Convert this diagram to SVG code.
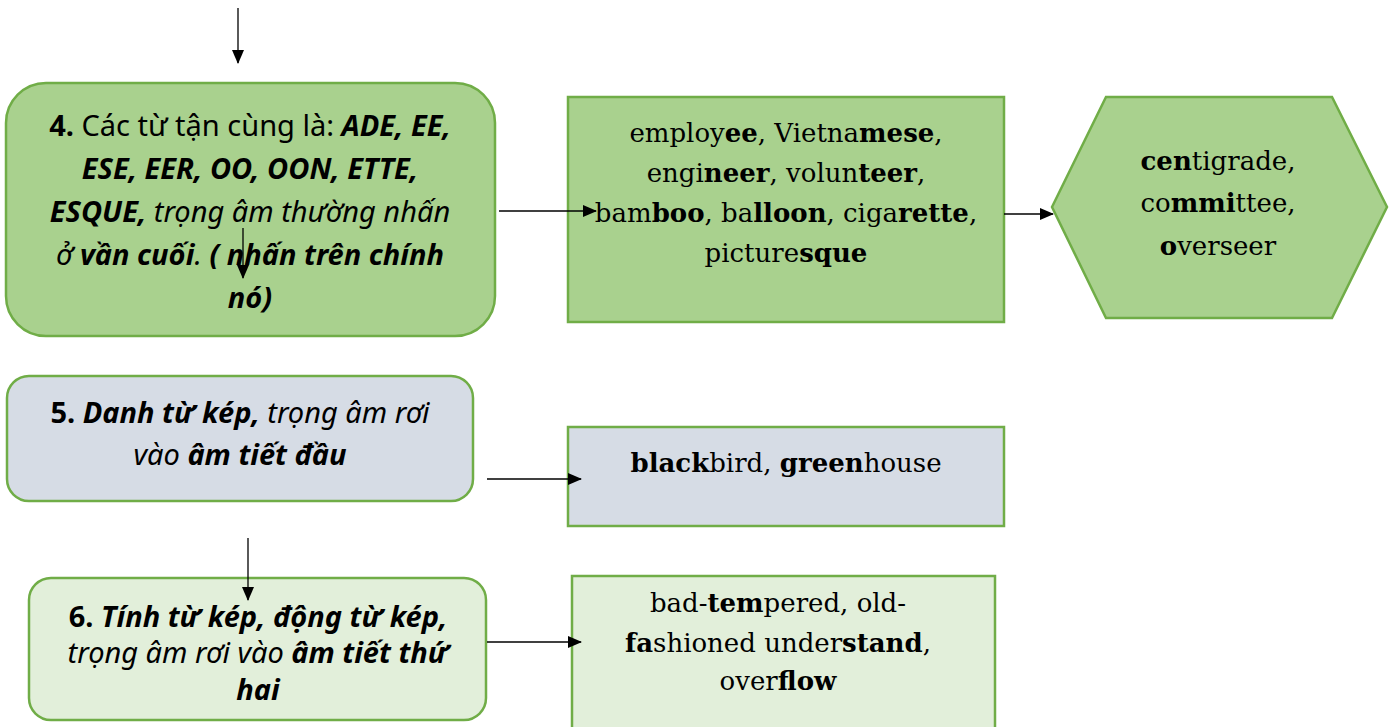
<svg xmlns="http://www.w3.org/2000/svg" width="1393" height="727" viewBox="0 0 1393 727">
<defs>
<marker id="arr" markerUnits="userSpaceOnUse" markerWidth="14" markerHeight="12" refX="13" refY="6" orient="auto">
<path d="M0,0 L14,6 L0,12 Z" fill="#000"/>
</marker>
<style>
.conn line{stroke:#000;stroke-width:1.3;marker-end:url(#arr)}
.box{stroke:#70ad47;stroke-width:2.5}
.g1{fill:#a9d18e}
.g2{fill:#d6dce5}
.g3{fill:#e2efda}
.ls{font-family:"Noto Sans","DejaVu Sans",sans-serif;font-size:29px;fill:#000;text-anchor:middle}
.rs{font-family:"DejaVu Serif","Liberation Serif",serif;font-size:26px;fill:#000;text-anchor:middle}
.b{font-weight:bold}
.i{font-style:italic}
</style>
</defs>
<rect width="1393" height="727" fill="#fff"/>
<g id="node4">
<rect class="box g1" x="6" y="83" width="489" height="253" rx="40"/>
<text class="ls" x="250" y="136"><tspan class="b">4.</tspan> Các từ tận cùng là: <tspan class="b i">ADE, EE,</tspan></text>
<text class="ls b i" x="250" y="179">ESE, EER, OO, OON, ETTE,</text>
<text class="ls" x="250" y="222"><tspan class="b i">ESQUE,</tspan><tspan class="i"> trọng âm thường nhấn</tspan></text>
<text class="ls i" x="250" y="265">ở <tspan class="b">vần cuối</tspan>. <tspan class="b">( nhấn trên chính</tspan></text>
<text class="ls b i" x="250" y="308">nó)</text>
</g>
<g id="nodeA">
<rect class="box g1" x="568" y="97" width="436" height="225"/>
<text class="rs" x="786" y="142">employ<tspan class="b">ee</tspan>, Vietna<tspan class="b">mese</tspan>,</text>
<text class="rs" x="786" y="182">engi<tspan class="b">neer</tspan>, volun<tspan class="b">teer</tspan>,</text>
<text class="rs" x="786" y="222">bam<tspan class="b">boo</tspan>, ba<tspan class="b">lloon</tspan>, ciga<tspan class="b">rette</tspan>,</text>
<text class="rs" x="786" y="262">picture<tspan class="b">sque</tspan></text>
</g>
<g id="nodeHex">
<polygon class="box g1" points="1052,207 1106,97 1332,97 1387,207 1332,318 1106,318"/>
<text class="rs" x="1218" y="170"><tspan class="b">cen</tspan>tigrade,</text>
<text class="rs" x="1218" y="212">co<tspan class="b">mmi</tspan>ttee,</text>
<text class="rs" x="1218" y="255"><tspan class="b">o</tspan>verseer</text>
</g>
<g id="node5">
<rect class="box g2" x="7" y="376" width="466" height="125" rx="22"/>
<text class="ls" x="240" y="423"><tspan class="b">5.</tspan> <tspan class="b i">Danh từ kép,</tspan><tspan class="i"> trọng âm rơi</tspan></text>
<text class="ls i" x="240" y="465">vào <tspan class="b">âm tiết đầu</tspan></text>
</g>
<g id="nodeB">
<rect class="box g2" x="568" y="427" width="436" height="99"/>
<text class="rs" x="786" y="472"><tspan class="b">black</tspan>bird, <tspan class="b">green</tspan>house</text>
</g>
<g id="node6">
<rect class="box g3" x="29" y="578" width="457" height="142" rx="22"/>
<text class="ls" x="258" y="627"><tspan class="b">6.</tspan> <tspan class="b i">Tính từ kép, động từ kép,</tspan></text>
<text class="ls i" x="258" y="663">trọng âm rơi vào <tspan class="b">âm tiết thứ</tspan></text>
<text class="ls b i" x="258" y="700">hai</text>
</g>
<g id="nodeC">
<rect class="box g3" x="572" y="576" width="423" height="160"/>
<text class="rs" x="778" y="612">bad-<tspan class="b">tem</tspan>pered, old-</text>
<text class="rs" x="778" y="652"><tspan class="b">fa</tspan>shioned under<tspan class="b">stand</tspan>,</text>
<text class="rs" x="778" y="690">over<tspan class="b">flow</tspan></text>
</g>
<g id="connectors" class="conn">
<line x1="238" y1="8" x2="238" y2="63"/>
<line x1="243" y1="228" x2="243" y2="278"/>
<line x1="499" y1="211" x2="596" y2="211"/>
<line x1="1004" y1="214" x2="1053" y2="214"/>
<line x1="487" y1="479" x2="581" y2="479"/>
<line x1="248" y1="538" x2="248" y2="600"/>
<line x1="487" y1="642" x2="581" y2="642"/>
</g>
</svg>
